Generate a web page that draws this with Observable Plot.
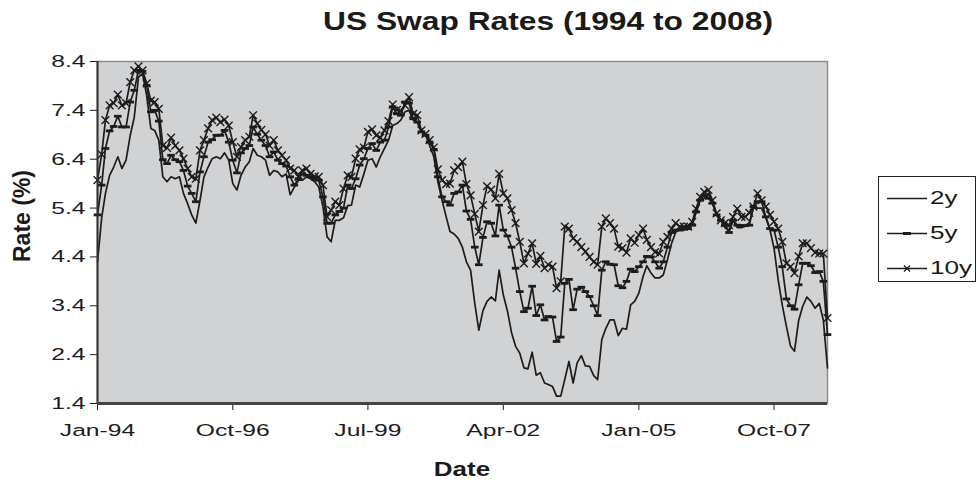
<!DOCTYPE html>
<html><head><meta charset="utf-8">
<script src="https://cdn.jsdelivr.net/npm/d3@7"></script>
<script src="https://cdn.jsdelivr.net/npm/@observablehq/plot@0.6"></script>
<style>
body{margin:0;background:#fff;font-family:"Liberation Sans",Arial,Helvetica,sans-serif;color:#1a1a1a;}
#wrap{position:relative;width:977px;height:482px;overflow:hidden;}
#chart{position:absolute;left:0;top:0;}
#title{position:absolute;left:323px;top:7px;font-weight:bold;font-size:25px;white-space:nowrap;transform:scaleX(1.27);transform-origin:0 0;}
#ylab{position:absolute;left:22px;top:216px;font-weight:bold;font-size:23px;transform:translate(-50%,-50%) rotate(-90deg);white-space:nowrap;}
#xlab{position:absolute;left:462px;top:469px;font-weight:bold;font-size:20px;transform:translate(-50%,-50%) scaleX(1.3);}
#legend{position:absolute;left:878px;top:176px;width:98px;height:106px;border:1px solid #222;background:#fff;box-sizing:border-box;}
.lrow{position:absolute;left:8px;height:24px;display:flex;align-items:center;font-size:18px;}
.lrow svg{margin-right:3px;flex:none;}
.lrow span{display:inline-block;transform:scaleX(1.45);transform-origin:0 50%;}
</style></head><body>
<div id="wrap">
<div id="chart"></div>
<div id="title">US Swap Rates (1994 to 2008)</div>
<div id="ylab">Rate (%)</div>
<div id="xlab">Date</div>
<div id="legend"></div>
</div>
<script>
// Monthly observations starting January 1994
const startYear = 1994;
const seriesNames = ["2y", "5y", "10y"];
const rate2y = [
4.30,5.20,5.70,6.07,6.24,6.45,6.21,6.38,6.89,7.26,8.08,8.15,
7.70,7.03,6.99,6.79,6.04,5.94,6.04,6.00,6.04,5.70,5.49,5.26,
5.09,5.56,6.04,6.24,6.41,6.45,6.41,6.53,6.38,5.90,5.77,6.07,
6.24,6.35,6.62,6.48,6.45,6.38,6.07,6.17,6.14,6.04,6.10,5.67,
5.83,5.97,5.97,6.04,6.00,5.94,5.83,5.43,4.81,4.71,5.15,5.15,
5.20,5.45,5.46,5.87,5.83,6.10,6.38,6.41,6.24,6.45,6.62,6.79,
7.09,7.13,7.20,7.37,7.40,7.20,7.16,6.99,6.89,6.68,6.45,5.94,
5.56,5.22,4.92,4.87,4.78,4.60,4.30,4.13,3.45,2.90,3.30,3.49,
3.58,3.50,4.13,3.62,3.30,2.85,2.57,2.43,2.13,2.11,2.45,1.98,
2.03,1.82,1.79,1.75,1.55,1.55,1.89,2.26,1.82,2.23,2.38,2.17,
2.16,1.97,1.89,2.71,2.94,3.11,3.11,2.79,2.94,2.92,3.42,3.49,
3.66,4.00,4.22,4.07,3.97,3.97,4.03,4.34,4.68,4.90,4.98,5.00,
5.05,5.10,5.30,5.56,5.60,5.70,5.50,5.26,5.15,5.00,4.95,5.15,
5.00,5.00,5.03,5.10,5.40,5.40,5.40,5.20,4.95,4.58,3.93,3.42,
2.98,2.57,2.47,3.10,3.39,3.58,3.49,3.35,3.45,3.11,2.13
];
const rate5y = [
5.26,5.87,6.62,6.98,7.07,7.28,7.06,7.06,7.57,7.81,8.22,8.20,
7.91,7.37,7.40,7.18,6.39,6.31,6.48,6.39,6.35,6.17,5.85,5.70,
5.53,6.14,6.45,6.75,6.80,6.89,6.89,6.99,6.75,6.38,6.12,6.53,
6.62,6.68,7.06,6.91,6.79,6.68,6.45,6.55,6.38,6.31,6.26,6.04,
5.87,6.00,6.10,6.07,6.04,6.00,5.97,5.63,5.09,5.09,5.26,5.33,
5.40,5.87,5.80,6.00,6.28,6.41,6.62,6.72,6.58,6.75,6.79,7.06,
7.47,7.33,7.30,7.57,7.55,7.23,7.16,6.96,6.89,6.75,6.60,6.04,
5.63,5.53,5.46,5.70,5.73,5.87,5.34,5.17,4.60,4.24,4.80,5.12,
5.09,4.83,5.46,4.95,4.83,4.60,4.17,3.69,3.28,3.35,3.80,3.20,
3.42,3.11,3.18,3.17,2.67,2.76,3.86,3.94,3.32,3.74,3.78,3.69,
3.59,3.40,3.20,4.13,4.30,4.25,4.24,3.81,3.77,3.90,4.15,4.10,
4.20,4.30,4.41,4.40,4.30,4.17,4.30,4.60,4.90,4.95,4.95,4.97,
4.98,5.05,5.32,5.56,5.66,5.60,5.50,5.26,5.15,5.05,4.90,5.15,
5.05,5.04,5.04,5.05,5.43,5.53,5.53,5.22,4.98,4.95,4.60,4.20,
3.54,3.40,3.33,3.83,4.27,4.27,4.22,4.08,4.10,3.90,2.81
];
const rate10y = [
5.97,6.50,7.20,7.50,7.55,7.72,7.50,7.55,7.98,8.22,8.30,8.22,
7.95,7.60,7.57,7.43,6.68,6.63,6.84,6.68,6.58,6.41,6.21,6.04,
6.00,6.58,6.79,7.03,7.20,7.25,7.16,7.21,7.09,6.75,6.45,6.65,
6.79,6.86,7.30,7.13,7.00,6.91,6.68,6.79,6.58,6.48,6.38,6.21,
6.17,6.04,6.17,6.21,6.10,6.05,6.04,5.87,5.22,5.36,5.53,5.46,
5.80,6.07,6.04,6.41,6.60,6.64,6.96,7.01,6.89,6.84,6.99,7.18,
7.52,7.41,7.39,7.50,7.67,7.33,7.30,6.99,6.92,6.79,6.64,6.19,
5.97,5.89,5.90,6.17,6.24,6.35,5.89,5.66,5.28,4.92,5.46,5.85,
5.78,5.60,6.10,5.70,5.60,5.36,5.09,4.71,4.27,4.47,4.68,4.26,
4.42,4.17,4.24,4.20,3.76,3.90,5.02,4.98,4.78,4.71,4.60,4.51,
4.40,4.30,4.24,5.02,5.19,5.09,4.98,4.61,4.58,4.49,4.78,4.69,
4.85,4.98,4.75,4.60,4.50,4.47,4.71,4.81,4.98,5.09,5.02,5.02,
5.02,5.12,5.39,5.63,5.73,5.77,5.56,5.29,5.15,5.09,5.05,5.22,
5.39,5.22,5.22,5.30,5.43,5.70,5.56,5.43,5.26,5.12,4.98,4.71,
4.27,4.20,4.07,4.41,4.68,4.68,4.58,4.49,4.47,4.47,3.15
];
const yTickValues = [1.4, 2.4, 3.4, 4.4, 5.4, 6.4, 7.4, 8.4];
const xTickLabels = ["Jan-94", "Oct-96", "Jul-99", "Apr-02", "Jan-05", "Oct-07"];

const parseLabel = d3.utcParse("%b-%y");
const xTicks = xTickLabels.map(parseLabel);
const monthDate = i => new Date(Date.UTC(startYear, i, 1));
function toRows(values, name) { return values.map((v, i) => ({date: monthDate(i), rate: v, series: name})); }
const rows2 = toRows(rate2y, seriesNames[0]);
const rows5 = toRows(rate5y, seriesNames[1]);
const rows10 = toRows(rate10y, seriesNames[2]);
const xDomain = [monthDate(0), monthDate(rate2y.length - 1)];

const dash = {draw(ctx) { const w = 3.8, h = 1.4; ctx.moveTo(-w, -h); ctx.lineTo(w, -h); ctx.lineTo(w, h); ctx.lineTo(-w, h); ctx.closePath(); }};
const ink = "#1c1c1c";

const chart = Plot.plot({
  width: 977, height: 482,
  marginTop: 61, marginBottom: 79, marginLeft: 97, marginRight: 150,
  style: {fontFamily: '"Liberation Sans", Arial, Helvetica, sans-serif', fontSize: "17px", color: ink, background: "transparent"},
  x: {type: "utc", domain: xDomain, label: null},
  y: {domain: [1.4, 8.4], label: null},
  marks: [
    Plot.frame({fill: "#d1d2d4", stroke: "#8c8c8c", strokeWidth: 1.5}),
    Plot.axisY({ticks: yTickValues, tickFormat: d3.format(".1f"), tickSize: 7, tickPadding: 5, label: null, stroke: ink}),
    Plot.axisX({ticks: xTicks, tickFormat: d3.utcFormat("%b-%y"), tickSize: 7, tickPadding: 13, label: null, stroke: ink}),
    Plot.line(rows2, {x: "date", y: "rate", stroke: ink, strokeWidth: 1.7}),
    Plot.line(rows5, {x: "date", y: "rate", stroke: ink, strokeWidth: 1.7}),
    Plot.dot(rows5, {x: "date", y: "rate", symbol: dash, fill: ink, stroke: "none"}),
    Plot.line(rows10, {x: "date", y: "rate", stroke: ink, strokeWidth: 1.7}),
    Plot.dot(rows10, {x: "date", y: "rate", symbol: "times", r: 3.6, stroke: ink, strokeWidth: 1.4}),
    Plot.ruleX([xDomain[0]], {stroke: "#333", strokeWidth: 2}),
    Plot.ruleY([1.4], {stroke: "#444", strokeWidth: 3})
  ]
});
document.getElementById("chart").appendChild(chart);

// Widen tick labels horizontally to match the reference lettering
function stretchText(el, sx) {
  const xa = el.getAttribute("x"), ya = el.getAttribute("y");
  let tx = 0, ty = 0;
  if (xa != null && !isNaN(+xa)) { tx = +xa; el.removeAttribute("x"); }
  if (ya != null && !isNaN(+ya)) { ty = +ya; el.removeAttribute("y"); }
  const t = el.getAttribute("transform") || "";
  el.setAttribute("transform", `${t} translate(${tx},${ty}) scale(${sx},1)`);
}
chart.querySelectorAll('g[aria-label="y-axis tick label"] text, g[aria-label="x-axis tick label"] text')
  .forEach(el => stretchText(el, 1.45));

// Legend
const legend = document.getElementById("legend");
const markers = {
  "2y": "",
  "5y": '<rect x="16" y="9" width="8" height="3" fill="' + ink + '"/>',
  "10y": '<path d="M17 7.5L23 13.5M23 7.5L17 13.5" stroke="' + ink + '" stroke-width="1.3"/>'
};
seriesNames.forEach((name, i) => {
  const row = document.createElement("div");
  row.className = "lrow";
  row.style.top = (9 + i * 35) + "px";
  row.innerHTML = '<svg width="40" height="21"><line x1="0" x2="40" y1="10.5" y2="10.5" stroke="' + ink + '" stroke-width="1.3"/>' + markers[name] + '</svg><span>' + name + '</span>';
  legend.appendChild(row);
});
</script>
</body></html>
